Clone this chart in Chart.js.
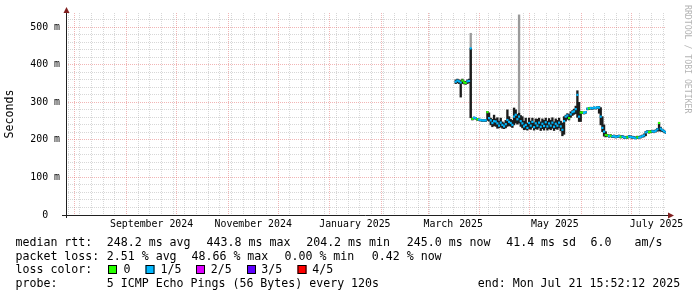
<!DOCTYPE html>
<html><head><meta charset="utf-8"><title>smokeping</title>
<script src="https://cdn.jsdelivr.net/npm/chart.js@4.4.1/dist/chart.umd.min.js"></script>
<style>html,body{margin:0;padding:0;background:#fff;overflow:hidden}canvas{display:block}</style>
</head><body>
<canvas id="chart" width="697" height="297" style="width:697px;height:297px"></canvas>
<script>
// ---------------- data ----------------
const startTime = "2024-07-26T15:52:12Z";
const endTime   = "2025-07-21T15:52:12Z";
const firstDay  = "2025-03-17";   // first daily sample (one value per day below)

const medianMs = [
 355,358,356,353,358,353,352,356,357,443.8,
 256,259,258,255,254,253,252,252,252,274,
 258,252,245,250,249,244,238,246,240,236,
 242,253,248,245,240,262,267,255,262,250,
 244,236,240,232,245,238,248,234,244,238,
 246,235,243,237,247,236,244,238,246,235,
 243,238,246,236,227,250,262,265,258,268,
 274,276,282,320,262,273,273,272,274,283,
 284,285,284,286,285,287,286,262,232,222,
 213,212,210,211,209,210,208,209,210,208,
 209,207,206,207,209,208,207,206,204.2,207,
 206,208,210,212,220,222,221,222,223,222,
 224,228,245,230,226,223,220
];
const smokeLowMs = [
 350,352,350,314,350,349,348,350,352,259,
 253,256,255,252,251,250,249,249,249,252,
 250,240,235,238,236,231,232,234,231,230,
 232,236,238,236,233,240,245,242,245,236,
 232,227,228,226,230,228,233,226,230,228,
 232,225,230,226,232,226,230,227,231,225,
 230,228,232,224,211,215,250,255,253,260,
 265,268,270,260,249,249,270,269,271,280,
 281,282,281,283,282,284,271,240,222,210,
 208,209,207,208,206,207,205,206,207,205,
 206,204,204,204,206,205,204,204,203,204,
 204,205,207,208,211,219,218,219,220,219,
 221,223,224,223,222,220,217
];
const smokeHighMs = [
 360,362,360,358,362,357,356,360,362,444,
 258,261,260,257,256,255,254,254,254,276,
 272,258,255,266,256,259,250,258,248,245,
 252,280,262,255,252,285,280,268,271,265,
 262,250,258,245,258,250,258,246,256,255,
 258,248,256,252,258,250,257,252,259,248,
 256,252,258,250,245,262,266,270,268,275,
 278,282,290,331,300,276,275,274,276,285,
 286,287,286,288,287,289,289,286,262,240,
 222,215,213,214,212,213,211,212,213,211,
 212,210,209,210,212,211,210,209,208,210,
 209,211,213,216,223,225,224,225,226,225,
 227,231,246,234,229,226,223
];
// lost pings per sample (0 = none, 1 = 1 of 5)
const lossCount = [
 1,1,1,1,0,0,0,1,1,1,
 0,1,1,0,1,1,1,1,1,0,
 1,1,1,1,1,1,1,1,1,1,
 1,1,1,1,1,1,1,1,1,1,
 1,1,1,1,1,1,1,1,1,1,
 1,1,1,1,1,1,1,1,1,1,
 1,1,1,1,1,1,1,1,0,1,
 1,1,1,1,1,0,0,1,1,1,
 0,1,1,1,1,1,1,1,1,1,
 0,0,1,0,1,1,1,1,1,0,
 1,1,1,0,1,1,1,1,1,0,
 1,1,1,1,1,1,0,0,1,1,
 1,1,0,1,1,1,1
];
// isolated high-ping outliers (outer smoke)
const spikeDates  = ["2025-03-26", "2025-04-24"];
const spikeLowMs  = [259, 245];
const spikeHighMs = [484, 533];

const yTickValues = [0, 100, 200, 300, 400, 500];
const yTickLabels = ["0", "100 m", "200 m", "300 m", "400 m", "500 m"];
const xLabelDates = ["2024-09-16", "2024-11-16", "2025-01-16", "2025-03-16", "2025-05-16", "2025-07-16"];
const xLabelTexts = ["September 2024", "November 2024", "January 2025", "March 2025", "May 2025", "July 2025"];

const lossColors = ["#26ff00", "#00b8ff", "#dd00ff", "#5e00ff", "#ff0000"];
const lossLabels = ["0", "1/5", "2/5", "3/5", "4/5"];
const rowLabels  = ["median rtt:", "packet loss:", "loss color:", "probe:"];
const rttStats   = ["248.2 ms avg", "443.8 ms max", "204.2 ms min", "245.0 ms now", "41.4 ms sd", "6.0", "am/s"];
const lossStats  = ["2.51 % avg", "48.66 % max", "0.00 % min", "0.42 % now"];
const probeText  = "5 ICMP Echo Pings (56 Bytes) every 120s";
const endText    = "end: Mon Jul 21 15:52:12 2025";
const watermark  = "RRDTOOL / TOBI OETIKER";
const yTitle     = "Seconds";

// ---------------- build ----------------
const DAY = 86400000;
const tStart = Date.parse(startTime), tEnd = Date.parse(endTime);
const day0 = Date.parse(firstDay + "T12:00:00Z");
const dayX = medianMs.map((_, k) => day0 + k * DAY);

const medianPts = medianMs.map((v, k) => ({x: dayX[k], y: v}));
const smokePts  = smokeLowMs.map((lo, k) => ({x: dayX[k], y: [lo, smokeHighMs[k]]}));
const spikePts  = spikeDates.map((d, i) => ({x: Date.parse(d + "T12:00:00Z"), y: [spikeLowMs[i], spikeHighMs[i]]}));

function monthStarts() {
  const out = [];
  let y = 2024, m = 7;
  for (;;) {
    const t = Date.UTC(y, m, 1);
    if (t >= tEnd) break;
    if (t > tStart) out.push(t);
    m++; if (m > 11) { m = 0; y++; }
  }
  return out;
}
function weekStarts() {
  const out = [];
  for (let t = Date.UTC(2024, 6, 28); t < tEnd; t += 7 * DAY) {
    if (t > tStart && new Date(t).getUTCDate() !== 1) out.push(t);
  }
  return out;
}
function minorY() {
  const out = [];
  for (let v = 20; v < 538; v += 20) if (v % 100 !== 0) out.push(v);
  return out;
}

const MONO = "'DejaVu Sans Mono'";
const GRID_MINOR = "rgba(160,160,160,0.42)";
const GRID_MAJOR = "rgba(222,79,79,0.42)";

function gridOnlyX(list, color) {
  return {
    type: "linear", position: "bottom", min: tStart, max: tEnd, offset: false,
    afterBuildTicks: s => { s.ticks = list().map(v => ({value: v})); },
    ticks: {display: false},
    grid: {color: color, lineWidth: 1, drawTicks: false, offset: false},
    border: {display: false, dash: [1, 1]},
    afterFit: s => { s.height = 0; }
  };
}

const overlay = {
  id: "rrdOverlay",
  afterDatasetsDraw(chart) {
    const ctx = chart.ctx, a = chart.chartArea;
    ctx.save();
    ctx.strokeStyle = "#202020"; ctx.lineWidth = 1;
    ctx.beginPath();
    ctx.moveTo(a.left - 4, a.bottom + 0.5); ctx.lineTo(a.right + 3, a.bottom + 0.5);
    ctx.moveTo(a.left + 0.5, a.bottom + 3); ctx.lineTo(a.left + 0.5, a.top - 2);
    ctx.stroke();
    ctx.fillStyle = "#801f1f";
    ctx.beginPath();
    ctx.moveTo(a.right + 2, a.bottom - 2.5); ctx.lineTo(a.right + 2, a.bottom + 3.5); ctx.lineTo(a.right + 8, a.bottom + 0.5);
    ctx.closePath(); ctx.fill();
    ctx.beginPath();
    ctx.moveTo(a.left - 2.5, a.top); ctx.lineTo(a.left + 3.5, a.top); ctx.lineTo(a.left + 0.5, a.top - 6);
    ctx.closePath(); ctx.fill();
    ctx.restore();
  },
  afterDraw(chart) {
    const ctx = chart.ctx;
    ctx.save();
    ctx.fillStyle = "#000";
    ctx.font = "11.6px " + MONO;
    ctx.textBaseline = "alphabetic";
    ctx.textAlign = "left";
    const base = [246, 260, 273, 287];
    rowLabels.forEach((t, i) => ctx.fillText(t, 15.5, base[i]));
    const rttX = [106.8, 206.6, 306.2, 406.8, 506.2, 590.5, 634.5];
    rttStats.forEach((t, i) => ctx.fillText(t, rttX[i], base[0]));
    const lossX = [106.8, 191.5, 284.5, 371.8];
    lossStats.forEach((t, i) => ctx.fillText(t, lossX[i], base[1]));
    const boxX = [108, 145.5, 196, 247, 297.5];
    const lblX = [123.5, 160.5, 210.8, 261.2, 312.2];
    lossColors.forEach((c, i) => {
      ctx.fillStyle = c;
      ctx.fillRect(boxX[i], 265, 9, 9);
      ctx.strokeStyle = "#000"; ctx.lineWidth = 1;
      ctx.strokeRect(boxX[i] + 0.5, 265.5, 8, 8);
      ctx.fillStyle = "#000";
      ctx.fillText(lossLabels[i], lblX[i], base[2]);
    });
    ctx.fillText(probeText, 106.8, base[3]);
    ctx.fillText(endText, 477.8, base[3]);
    // watermark
    ctx.translate(684.5, 5);
    ctx.rotate(Math.PI / 2);
    ctx.font = "8.2px " + MONO;
    ctx.fillStyle = "#b4b4b4";
    ctx.textBaseline = "alphabetic";
    ctx.fillText(watermark, 0, 0);
    ctx.restore();
  }
};

new Chart(document.getElementById("chart"), {
  type: "bar",
  data: {
    datasets: [
      {
        type: "line", label: "median", data: medianPts, showLine: false,
        pointStyle: "line", pointRadius: 1.05, pointHoverRadius: 1.05, pointBorderWidth: 2.2,
        pointBorderColor: lossCount.map(l => lossColors[l]),
        pointBackgroundColor: lossCount.map(l => lossColors[l])
      },
      {
        label: "smoke", data: smokePts, backgroundColor: "#1c1c1c", borderWidth: 0,
        grouped: false, barPercentage: 1, categoryPercentage: 1
      },
      {
        label: "outliers", data: spikePts, backgroundColor: "#9a9a9a", borderWidth: 0,
        grouped: false, barPercentage: 1, categoryPercentage: 1
      }
    ]
  },
  options: {
    responsive: false, devicePixelRatio: 1, animation: false, events: [],
    layout: {padding: {top: 13, right: 31, bottom: 0, left: 0}, autoPadding: false},
    plugins: {legend: {display: false}, tooltip: {enabled: false}, title: {display: false}},
    scales: {
      x: {
        type: "linear", position: "bottom", min: tStart, max: tEnd, offset: false,
        afterBuildTicks: s => { s.ticks = xLabelDates.map(d => ({value: Date.parse(d + "T00:00:00Z")})); },
        ticks: {
          autoSkip: false, maxRotation: 0, minRotation: 0, padding: 3, color: "#000",
          font: {family: MONO, size: 9.9},
          callback: (v, i) => xLabelTexts[i]
        },
        grid: {display: false, drawTicks: false, offset: false},
        border: {display: false},
        afterFit: s => { s.height = 82; }
      },
      xWeek: gridOnlyX(weekStarts, GRID_MINOR),
      xMonth: gridOnlyX(monthStarts, GRID_MAJOR),
      y: {
        type: "linear", position: "left", min: 0, max: 538,
        afterBuildTicks: s => { s.ticks = yTickValues.map(v => ({value: v})); },
        ticks: {
          crossAlign: "center", padding: 6, color: "#000",
          font: {family: MONO, size: 9.9},
          callback: (v, i) => yTickLabels[i]
        },
        grid: {color: GRID_MAJOR, lineWidth: 1, drawTicks: false},
        border: {display: false, dash: [1, 1]},
        title: {display: true, text: yTitle, color: "#000", font: {family: MONO, size: 11.6}, padding: {top: 3.3, bottom: 0}},
        afterFit: s => { s.width = 66; }
      },
      yMinor: {
        type: "linear", position: "left", min: 0, max: 538,
        afterBuildTicks: s => { s.ticks = minorY().map(v => ({value: v})); },
        ticks: {display: false},
        grid: {color: GRID_MINOR, lineWidth: 1, drawTicks: false},
        border: {display: false, dash: [1, 1]},
        afterFit: s => { s.width = 0; }
      }
    }
  },
  plugins: [overlay]
});
</script>
</body></html>
